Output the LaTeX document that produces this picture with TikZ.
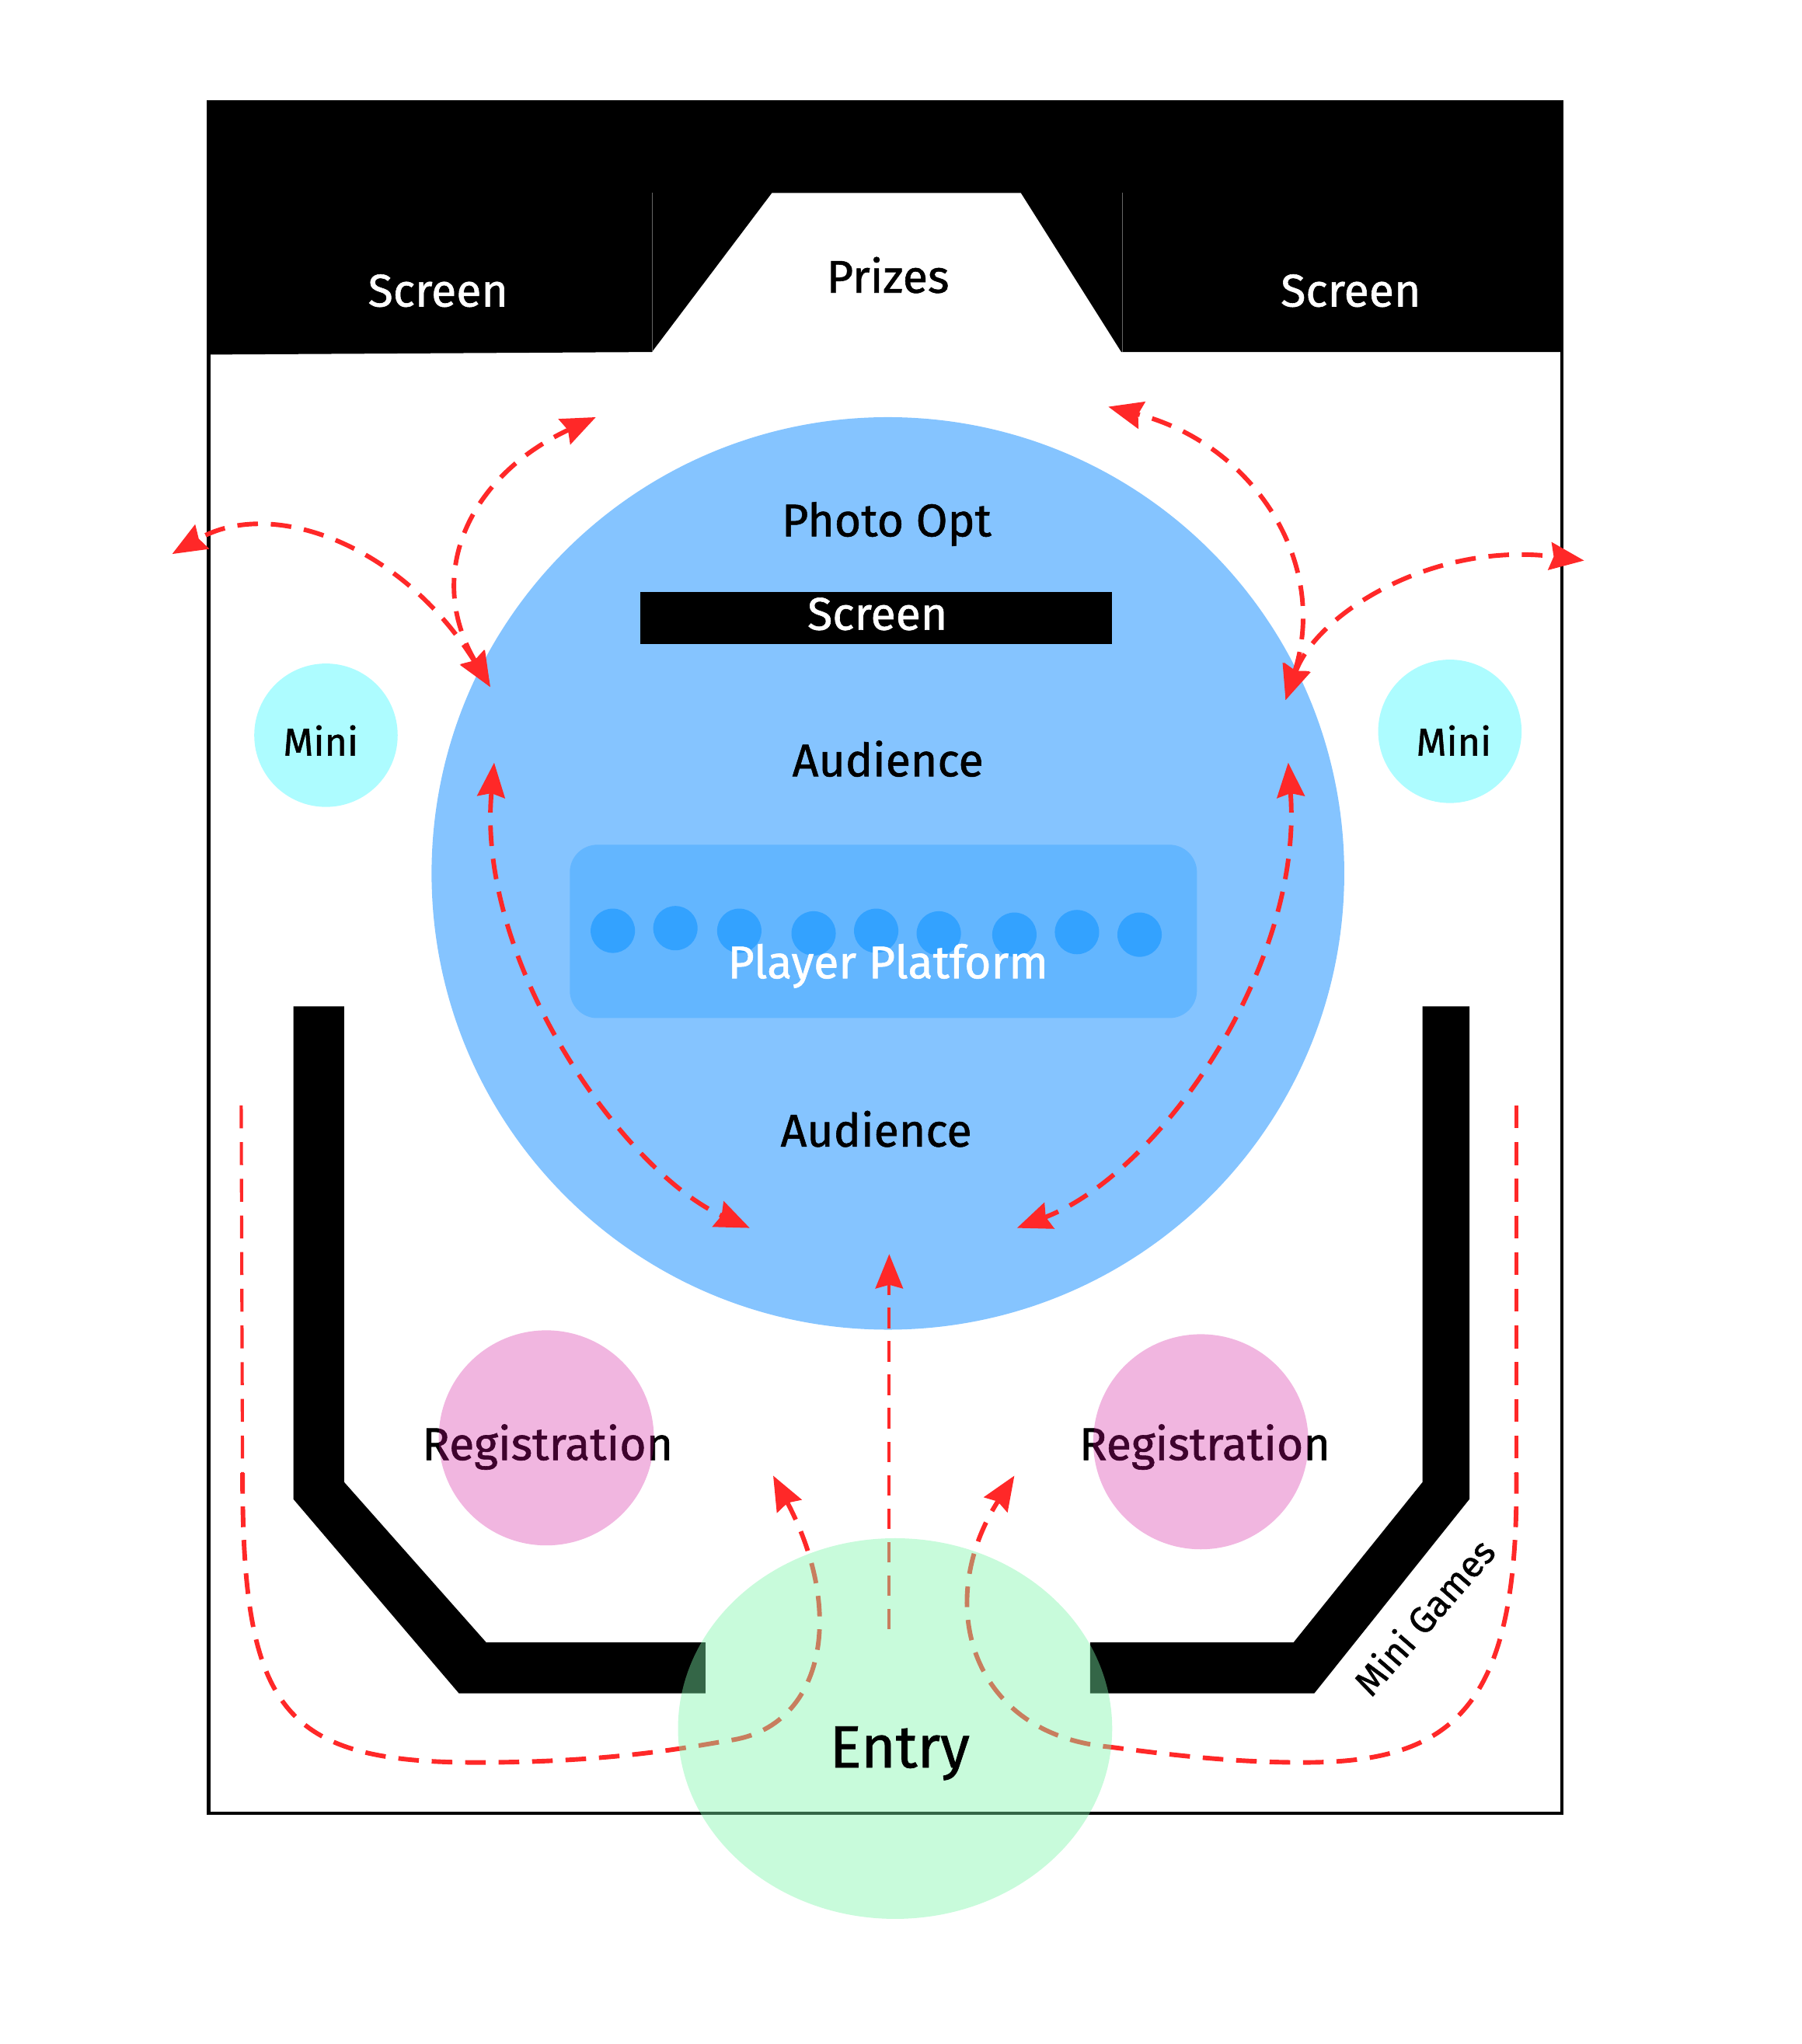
\documentclass[tikz,border=0pt]{standalone}
\usepackage{xcolor}
\usepackage{fontspec}
\setmainfont{Fira Sans}[FakeBold=1]
\usetikzlibrary{arrows.meta,shapes.geometric}
\definecolor{stageblue}{RGB}{133,196,255}
\definecolor{platformblue}{RGB}{99,182,255}
\definecolor{playerblue}{RGB}{51,162,255}
\definecolor{minicyan}{RGB}{173,252,255}
\definecolor{regpink}{RGB}{208,12,152}
\definecolor{entrygreen}{RGB}{125,245,170}
\definecolor{routered}{RGB}{255,40,40}

\begin{document}
\begin{tikzpicture}[
    x=0.01cm, y=-0.01cm,
    label/.style={font=\fontsize{10}{12}\selectfont, inner sep=0pt},
    labelwhite/.style={label, text=white},
    spot/.style={circle, inner sep=0pt, draw=none},
    wall/.style={fill=black},
    route/.style={routered, line width=1pt, dash pattern=on 4.5pt off 2.8pt, -{Stealth[length=7.5pt,width=6pt,inset=0.8pt]}},
    routeboth/.style={route, {Stealth[length=7.5pt,width=6pt,inset=0.8pt]}-{Stealth[length=7.5pt,width=6pt,inset=0.8pt]}},
    routethin/.style={routered, line width=0.7pt, dash pattern=on 5pt off 3pt}
  ]
    \useasboundingbox (0,0) rectangle (1382,1568);

    % Room outline and top wall
    \draw[line width=0.7pt] (160,78) rectangle (1198,1391);
    \fill (160,78) -- (1198,78) -- (1198,270) -- (860,270) -- (783,148) -- (592,148) -- (500,270) -- (160,272) -- cycle;
    \draw[black!60, line width=0.15pt] (500,148) -- (500,270);
    \draw[black!60, line width=0.15pt] (861,148) -- (861,270);
    \node[labelwhite] (screenleft) at (336,223) {Screen};
    \node[labelwhite] (screenright) at (1036,223) {Screen};
    \node[label] (prizes) at (681,211) {Prizes};

    % Stage
    \node[spot, fill=stageblue, minimum size=700*0.01cm] (stage) at (681,670) {};
    \node[label] (photo) at (680,402) {Photo Opt};
    \node[fill=black, minimum width=362*0.01cm, minimum height=40*0.01cm, inner sep=0pt] (screenbar) at (672,474) {};
    \node[labelwhite] (screenmid) at (673,471) {Screen};
    \node[label] (audtop) at (681,582) {Audience};
    \node[label] (audlow) at (672,866) {Audience};

    % Player platform
    \node[fill=platformblue, rounded corners=6pt, minimum width=481*0.01cm, minimum height=133*0.01cm, inner sep=0pt] (platform) at (677.5,714.5) {};
    \foreach \x/\y in {470/714,518/712,567/714,624/716,672/714,720/716,778/717,826/715,874/717}
      \fill[playerblue] (\x,\y) circle (17);
    \node[labelwhite] (players) at (681,741) {Player Platform};

    % Mini game stands
    \node[spot, fill=minicyan, minimum size=110*0.01cm] (minileft) at (250,564) {};
    \node[spot, fill=minicyan, minimum size=110*0.01cm] (miniright) at (1112,561) {};
    \node[label, font=\fontsize{8.5}{10}\selectfont] at (246,568) (minilefttext) {Mini};
    \node[label, font=\fontsize{8.5}{10}\selectfont] at (1115,568) (minirighttext) {Mini};

    % Mini game walls
    \fill[wall] (225,772) -- (264,772) -- (264,1137) -- (373,1260) -- (541,1260) -- (541,1299) -- (352,1299) -- (225,1150) -- cycle;
    \fill[wall] (1091,772) -- (1127,772) -- (1127,1150) -- (1008,1299) -- (836,1299) -- (836,1260) -- (992,1260) -- (1091,1137) -- cycle;
    \node[label, font=\fontsize{8}{10}\selectfont, rotate=49] (minigames) at (1092,1240) {Mini Games};

    % Registration
    \node[label] (regleft) at (420,1110) {Registration};
    \node[label] (regright) at (924,1110) {Registration};
    \node[spot, fill=regpink, fill opacity=0.3, minimum size=165*0.01cm] (regleftspot) at (419,1103) {};
    \node[spot, fill=regpink, fill opacity=0.3, minimum size=165*0.01cm] (regrightspot) at (921,1106) {};

    % Route ends
    \coordinate (stageleft) at (376,527);
    \coordinate (stageright) at (986,537);
    \coordinate (outleft) at (132,425);
    \coordinate (outright) at (1215,430);
    \coordinate (prizeleft) at (457,320);
    \coordinate (prizeright) at (850,312);
    \coordinate (sideleft) at (379,585);
    \coordinate (sideright) at (988,585);
    \coordinate (frontleft) at (575,942);
    \coordinate (frontright) at (780,942);
    \coordinate (centre) at (682,962);
    \coordinate (entrymid) at (682,1250);
    \coordinate (regnearleft) at (593,1132);
    \coordinate (regnearright) at (778,1132);
    \coordinate (backleft) at (185,848);
    \coordinate (backright) at (1163,848);
    \coordinate (bendleft) at (186,1130);
    \coordinate (bendright) at (1163,1130);

    % Routes
    \draw[routeboth] (stageleft) .. controls (310,420) and (210,380) .. (outleft);
    \draw[routeboth] (stageleft) .. controls (325,440) and (360,365) .. (prizeleft);
    \draw[routeboth] (stageright) .. controls (1020,430) and (960,340) .. (prizeright);
    \draw[routeboth] (stageright) .. controls (1010,470) and (1100,415) .. (outright);
    \draw[routeboth] (sideleft) .. controls (365,740) and (480,900) .. (frontleft);
    \draw[routeboth] (sideright) .. controls (1000,740) and (890,900) .. (frontright);
    \draw[route, line width=0.7pt] (entrymid) -- (centre);
    \draw[routethin] (backleft) -- (bendleft);
    \draw[routethin] (backright) -- (bendright);
    \draw[route] (bendleft) .. controls (186,1310) and (215,1352) .. (365,1352) .. controls (470,1352) and (530,1340) .. (560,1335) .. controls (630,1325) and (650,1240) .. (regnearleft);
    \draw[route] (bendright) .. controls (1165,1310) and (1115,1352) .. (1000,1352) .. controls (940,1352) and (890,1345) .. (850,1340) .. controls (745,1330) and (715,1230) .. (regnearright);

    % Entry
    \node[ellipse, fill=entrygreen, fill opacity=0.42, minimum width=333*0.01cm, minimum height=292*0.01cm, inner sep=0pt] (entryspot) at (686.5,1326) {};
    \node[label, font=\fontsize{13}{15}\selectfont] (entry) at (690,1345) {Entry};
  \end{tikzpicture}
\end{document}
